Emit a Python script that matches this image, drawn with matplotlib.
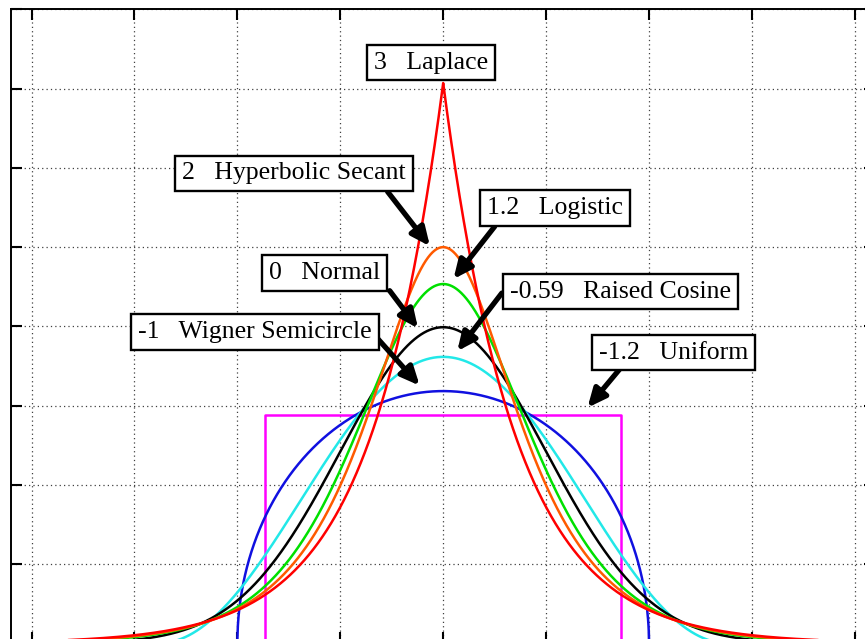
import numpy as np
import matplotlib.pyplot as plt

# Symmetric unit-variance densities and their excess kurtosis
names = ['Laplace', 'Hyperbolic Secant', 'Logistic', 'Normal',
         'Raised Cosine', 'Wigner Semicircle', 'Uniform']
kurtosis = ['3', '2', '1.2', '0', '-0.59', '-1', '-1.2']
colors = ['#ff0000', '#ff5a00', '#00e000', '#000000',
          '#22e8e8', '#1010e0', '#ff00ff']

# label box centres and arrow start/tip x (data units)
label_x = [-0.12, -1.45, 1.09, -1.15, 1.72, -1.83, 2.24]
label_y = [0.733, 0.593, 0.549, 0.467, 0.444, 0.393, 0.367]
arrow_from = [None, (-0.54, 0.570), (0.50, 0.526), (-0.52, 0.445),
              (0.57, 0.442), (-0.64, 0.385), (1.715, 0.346)]
tip_x = [None, -0.112, 0.083, -0.228, 0.12, -0.21, 1.385]


def laplace(x):
    b = 1 / np.sqrt(2)
    return np.exp(-np.abs(x) / b) / (2 * b)


def sech_pdf(x):
    return 0.5 / np.cosh(np.pi * x / 2)


def logistic(x):
    s = np.sqrt(3) / np.pi
    e = np.exp(-np.abs(x) / s)
    return e / (s * (1 + e) ** 2)


def normal(x):
    return np.exp(-x ** 2 / 2) / np.sqrt(2 * np.pi)


def raised_cos(x):
    s = 1 / np.sqrt(1 / 3 - 2 / np.pi ** 2)
    return np.where(np.abs(x) <= s, (1 + np.cos(np.pi * x / s)) / (2 * s), 0.0)


def semicircle(x):
    r = 2.0
    return np.where(np.abs(x) <= r,
                    2 / (np.pi * r ** 2) * np.sqrt(np.clip(r ** 2 - x ** 2, 0, None)), 0.0)


def uniform(x):
    a = np.sqrt(3)
    return np.where(np.abs(x) <= a, 1 / (2 * a), 0.0)


pdfs = [laplace, sech_pdf, logistic, normal, raised_cos, semicircle, uniform]

fig = plt.figure(figsize=(8.65, 6.39), dpi=100)
ax = fig.add_axes([0.0127, -0.0067, 0.9993, 0.9919])

x = np.linspace(-4.2, 4.2, 4001)
a = np.sqrt(3)
order = [6, 5, 4, 3, 2, 1, 0]
for i in order:
    if names[i] == 'Uniform':
        xs = np.array([-4.2, -a, -a, a, a, 4.2])
        ys = np.array([0, 0, 1 / (2 * a), 1 / (2 * a), 0, 0])
    else:
        xs, ys = x, pdfs[i](x)
    ax.plot(xs, ys, color=colors[i], lw=1.8, zorder=3)

ax.set_xlim(-4.2, 4.2)
ax.set_ylim(0, 0.8)
ax.set_xticks(np.arange(-4, 5, 1))
ax.set_yticks(np.arange(0, 0.81, 0.1))
ax.set_xticklabels([])
ax.set_yticklabels([])
ax.tick_params(direction='in', top=True, right=True, length=8, width=1.5)
ax.grid(True, color='0.25', linestyle=(0, (1, 2.5)), lw=0.9)
for sp in ax.spines.values():
    sp.set_linewidth(1.4)

for i in range(len(names)):
    ax.text(label_x[i], label_y[i], f'{kurtosis[i]}   {names[i]}',
            family='Liberation Serif', fontsize=18.5, ha='center', va='center',
            zorder=6,
            bbox=dict(boxstyle='square,pad=0.27', fc='white', ec='black', lw=1.7))
    if arrow_from[i] is not None:
        tx = tip_x[i]
        ty = float(pdfs[i](np.array(tx))) + 0.006
        ax.annotate('', xy=(tx, ty), xytext=arrow_from[i], zorder=5,
                    arrowprops=dict(arrowstyle='-|>,head_length=0.55,head_width=0.25',
                                    mutation_scale=20, lw=3.8, color='black',
                                    shrinkA=0, shrinkB=2))

fig.savefig('out.png', dpi=100)
